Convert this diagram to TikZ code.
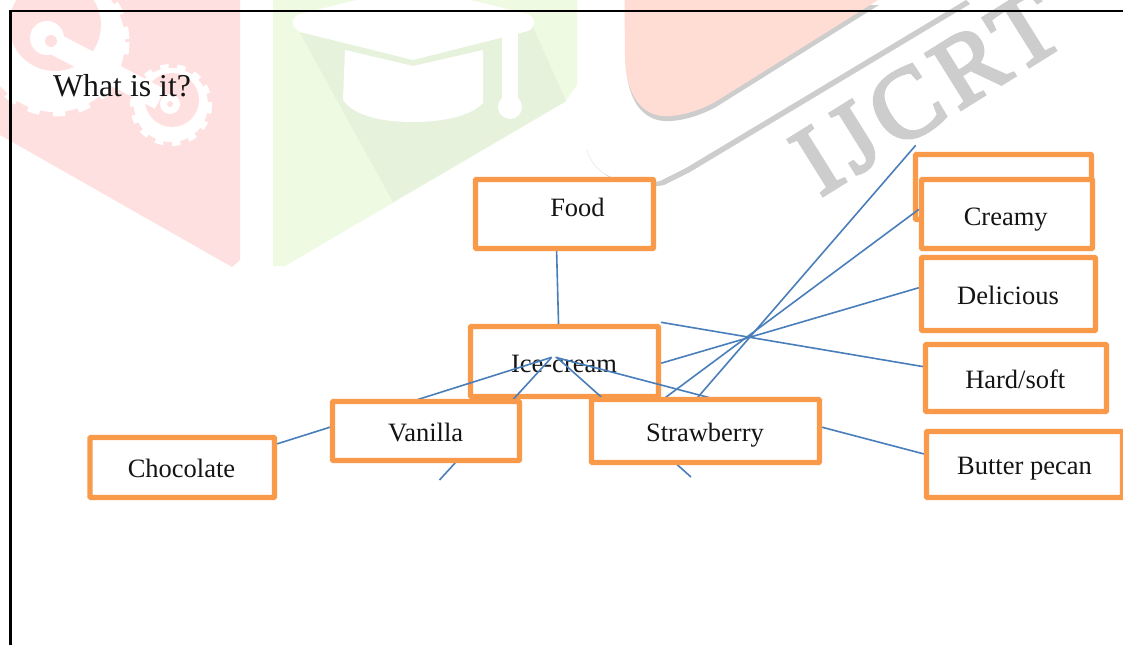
\documentclass[tikz,border=0pt]{standalone}
\usepackage{fontspec}
\setmainfont{Liberation Serif}
\newfontfamily\wmfont{Liberation Serif}[FakeBold=3.5,LetterSpace=8]
\definecolor{boxorange}{HTML}{F99A4A}
\definecolor{linkblue}{HTML}{4A7EBB}
\definecolor{wmred}{HTML}{FFE0E0}
\definecolor{wmgreen}{HTML}{EFFAE3}
\definecolor{wmgreendark}{HTML}{E7F2DC}
\definecolor{wmcoral}{HTML}{FFDDD4}
\definecolor{wmgray}{HTML}{CDCDCD}
\newcommand\lbl[3]{\raisebox{#2pt}[0pt][0pt]{\kern#1pt #3}}
\tikzset{
  box/.style={draw=boxorange,fill=white,line width=5.4pt,rounded corners=1pt,inner sep=0pt,
    font=\fontsize{26.5}{30}\selectfont,text=black!92},
  link/.style={draw=linkblue,line width=1.6pt},
  frameline/.style={draw=black,line width=2.2pt}
}
\begin{document}
\begin{tikzpicture}[x=1pt,y=-1pt]
\useasboundingbox (0,0) rectangle (1123,645);
\fill[white] (0,0) rectangle (1123,645);
% watermark
\begin{scope}
\clip (0,0) rectangle (1123,645);
% red tag with wrench and gears
\fill[wmred] (4,0) -- (240,0) -- (240,260) -- (232,267) -- (0,135) -- (0,90) -- (4,60) -- cycle;
\fill[white] (55,42) circle[radius=70];
\draw[white,line width=9pt,dash pattern=on 12pt off 13pt] (55,42) circle[radius=70];
\fill[wmred] (55,25) circle[radius=46];
\fill[white] (171,105) circle[radius=37];
\draw[white,line width=8pt,dash pattern=on 8pt off 8.4pt] (171,105) circle[radius=37];
\fill[wmred] (172,100) circle[radius=27];
\draw[white,line width=22pt] (47,40) -- (160,99);
\fill[white] (47,38) circle[radius=17];
\fill[white] (170,104) circle[radius=10];
\fill[wmred] (51,41) circle[radius=6];
\fill[wmred] (170,104) circle[radius=3];
% green cap
\fill[wmgreen] (273,0) -- (577,0) -- (577,85) -- (565,102) -- (285,266) -- (273,266) -- cycle;
\fill[wmgreendark] (300,33) -- (393,202) -- (566,101) -- (532,25) -- cycle;
\fill[white] (357,0) -- (470,0) -- (528,14) .. controls (536,18) and (536,28) .. (528,31)
  -- (413,60) -- (300,32) .. controls (290,26) and (290,18) .. (300,14) -- cycle;
\fill[white] (345,50) -- (413,66) -- (483,50) -- (483,103) .. controls (470,117) and (440,122) .. (413,122)
  .. controls (385,122) and (355,117) .. (343,100) -- cycle;
\fill[white] (502,33) rectangle (518,100);
\fill[white] (510,107) circle[radius=12];
% coral shape and grey edges
\fill[wmgray,shift={(1,5)}] (624.5,0) -- (625,60) .. controls (627,100) and (645,118) .. (670,116)
  .. controls (685,115) and (700,110) .. (715,102) -- (878,0) -- cycle;
\fill[wmcoral] (624.5,0) -- (625,60) .. controls (627,100) and (645,118) .. (670,116)
  .. controls (685,115) and (700,110) .. (715,102) -- (878,0) -- cycle;
\draw[wmgray!40,line width=.7pt] (587,150) .. controls (590,160) and (595,167) .. (602,172);
\fill[wmgray] (602,172) .. controls (618,185) and (640,190) .. (664,185) -- (690,172) -- (970,4) -- (966,0)
  -- (686,168) -- (660,181) .. controls (640,186) and (618,183) .. (602,172) -- cycle;
\node[text=wmgray,rotate=32,inner sep=0pt,font=\wmfont\fontsize{100}{100}\selectfont] (mark) at (927,92) {IJCRT};
\end{scope}
% frame
\draw[frameline] (10.5,645) -- (10.5,11) -- (1123,11);
\node[anchor=base west,inner sep=0pt,font=\fontsize{31.8}{36}\selectfont,text=black!92] (title) at (53,96) {What is it?};
% boxes
\node[box,minimum width=178pt,minimum height=69pt] (food) at (564.5,214) {\lbl{26}{-2}{Food}};
\node[box,minimum width=176pt,minimum height=65pt] (back) at (1003.5,187) {};
\node[box,minimum width=171pt,minimum height=69pt] (creamy) at (1007,214) {\lbl{-2.6}{-11}{Creamy}};
\node[box,minimum width=174pt,minimum height=73pt] (delicious) at (1008.5,294) {\lbl{-1}{-10.5}{Delicious}};
\node[box,minimum width=181pt,minimum height=67pt] (hard) at (1016,378) {\lbl{-1.4}{-10.3}{Hard/soft}};
\node[box,minimum width=196pt,minimum height=66pt] (butter) at (1024.5,464.5) {\lbl{0}{-9.5}{Butter pecan}};
\node[box,minimum width=184.5pt,minimum height=60pt] (choc) at (182.25,467.5) {\lbl{-1.5}{-9.8}{Chocolate}};
\node[box,minimum width=188pt,minimum height=70pt] (ice) at (564.5,361.5) {\lbl{-1}{-11}{Ice-cream}};
% free ends
\coordinate (apexL) at (551.7,357.3);
\coordinate (apexM) at (555.5,357.3);
\coordinate (apexR) at (556.7,357.3);
\coordinate (vanEnd) at (439.5,480);
\coordinate (strawEnd) at (691,477);
\coordinate (hardStart) at (661,322.3);
\coordinate (creamyLow) at (648.6,410);
\coordinate (topLow) at (686.8,410);
\coordinate (topEnd) at (915.7,145.3);
% connectors
\draw[link] (food.258.5) -- (ice.99.8);
\draw[link] (apexL) -- (choc.14.5);
\draw[link] (apexL) -- (vanEnd);
\draw[link] (apexR) -- (strawEnd);
\draw[link] (apexM) -- (butter.174.3);
\draw[link] (ice.-1.8) -- (delicious.176.7);
\draw[link] (hardStart) -- (hard.173.6);
\draw[link] (creamyLow) -- (creamy.177.8);
\draw[link] (topLow) -- (topEnd);
% boxes on top of the connectors
\node[box,minimum width=187pt,minimum height=59pt] (vanilla) at (426,431) {\lbl{-.8}{-10}{Vanilla}};
\node[box,minimum width=228pt,minimum height=63pt] (straw) at (705.5,431) {\lbl{-1}{-10}{Strawberry}};
\end{tikzpicture}
\end{document}
